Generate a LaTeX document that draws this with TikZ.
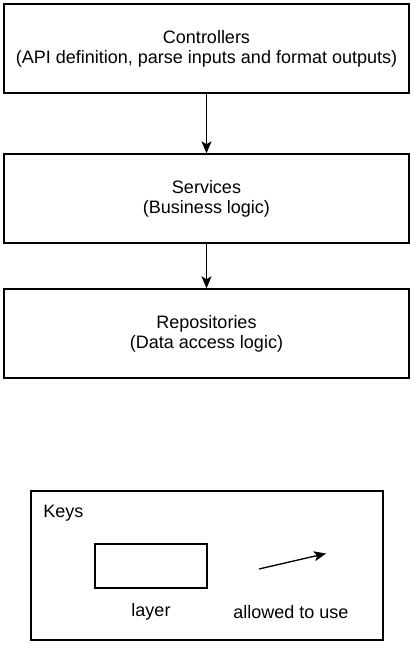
\documentclass[tikz,border=0pt]{standalone}
\usepackage{fontspec}
\setmainfont{Liberation Sans}
\usetikzlibrary{arrows.meta}
\begin{document}
\begin{tikzpicture}[x=0.75pt,y=-0.75pt,
  layer/.style={draw=black,line width=1pt,fill=white,inner sep=0pt,align=center,font=\fontsize{13.5}{15}\selectfont},
  uses/.style={-{Stealth[length=9pt,width=7.5pt,inset=2.2pt]},line width=1pt},
  lbl/.style={font=\fontsize{13.5}{15}\selectfont,inner sep=0pt}]
\useasboundingbox (0,0) rectangle (413,645);
\node[layer,minimum width=405*0.75pt,minimum height=89*0.75pt] (ctrl) at (206.5,48.5) {Controllers\\(API definition, parse inputs and format outputs)};
\node[layer,minimum width=405*0.75pt,minimum height=89*0.75pt] (svc) at (206.5,198.5) {Services\\(Business logic)};
\node[layer,minimum width=405*0.75pt,minimum height=89*0.75pt] (repo) at (206.5,333.5) {Repositories\\(Data access logic)};
\draw[uses] (ctrl.south) -- (svc.north);
\draw[uses] (svc.south) -- (repo.north);
\node[draw=black,line width=1pt,minimum width=352*0.75pt,minimum height=149*0.75pt,inner sep=0pt] (keys) at (207,565.5) {};
\node[lbl,anchor=west] (keyslbl) at (43,513) {Keys};
\node[draw=black,line width=1pt,minimum width=112*0.75pt,minimum height=44*0.75pt,inner sep=0pt] (lay) at (151,566) {};
\node[lbl] (laylbl) at (151,612) {layer};
\coordinate (a1) at (259,569);
\coordinate (a2) at (326,553.5);
\draw[uses] (a1) -- (a2);
\node[lbl] (uselbl) at (291,612) {allowed to use};
\end{tikzpicture}
\end{document}
